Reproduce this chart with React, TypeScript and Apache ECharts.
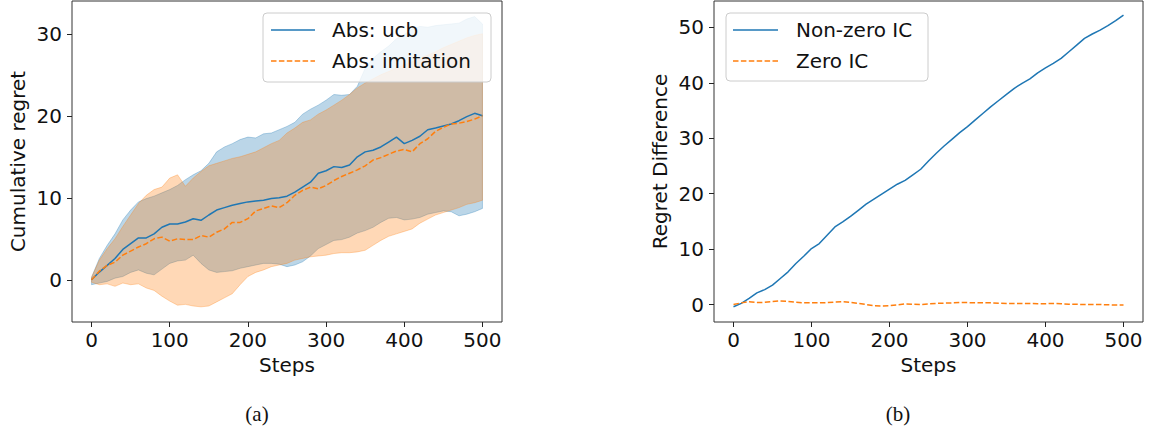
import React, { useEffect, useRef } from "react";
import * as echarts from "echarts";

// ---------- data ----------
const steps = [0, 10, 20, 30, 40, 50, 60, 70, 80, 90, 100, 110, 120, 130, 140, 150, 160, 170, 180, 190, 200, 210, 220, 230, 240, 250, 260, 270, 280, 290, 300, 310, 320, 330, 340, 350, 360, 370, 380, 390, 400, 410, 420, 430, 440, 450, 460, 470, 480, 490, 500];

const ucbMean = [0, 0.94, 1.75, 2.6, 3.7, 4.4, 5.1, 5.1, 5.6, 6.4, 6.8, 6.8, 7.05, 7.45, 7.25, 7.9, 8.5, 8.8, 9.1, 9.3, 9.5, 9.6, 9.7, 9.9, 10.0, 10.2, 10.7, 11.3, 11.9, 13.0, 13.3, 13.8, 13.7, 14.0, 15.0, 15.6, 15.8, 16.2, 16.8, 17.4, 16.6, 17.0, 17.5, 18.3, 18.5, 18.75, 19.0, 19.4, 19.9, 20.3, 20.0];
const ucbLo = [-0.6, -0.4, -0.2, 0.2, 0.4, 0.9, 1.2, 0.8, 0.6, 1.3, 2.0, 2.3, 2.4, 3.0, 2.0, 1.2, 0.9, 1.0, 1.1, 1.4, 1.6, 1.8, 2.0, 2.0, 1.9, 1.6, 1.8, 2.2, 2.9, 3.8, 4.3, 4.8, 4.9, 5.2, 5.7, 6.0, 6.4, 7.0, 7.5, 7.6, 7.3, 7.4, 7.6, 8.0, 8.2, 8.4, 8.3, 7.8, 8.0, 8.3, 8.7];
const ucbHi = [0.3, 2.6, 4.2, 5.6, 7.3, 8.5, 9.5, 9.9, 10.2, 10.6, 11.0, 11.5, 12.2, 12.8, 13.3, 14.2, 15.6, 16.2, 16.6, 17.1, 17.4, 17.3, 17.8, 17.9, 18.3, 18.7, 19.2, 20.2, 20.8, 21.3, 21.9, 22.6, 22.5, 22.6, 23.6, 25.8, 27.0, 27.8, 28.5, 29.4, 29.9, 30.6, 30.9, 30.8, 31.0, 31.1, 31.2, 31.3, 31.8, 32.1, 31.2];

const imiMean = [0, 1.05, 1.75, 2.15, 3.0, 3.5, 4.0, 4.4, 5.0, 5.2, 4.7, 5.0, 4.9, 4.9, 5.4, 5.2, 5.8, 6.2, 7.0, 7.0, 7.45, 8.4, 8.7, 9.0, 8.8, 9.4, 10.3, 10.9, 11.3, 11.1, 11.5, 12.1, 12.6, 13.0, 13.4, 13.9, 14.6, 14.9, 15.3, 15.7, 15.9, 15.6, 16.6, 17.2, 18.1, 18.6, 19.0, 19.1, 19.3, 19.6, 20.0];
const imiLo = [-0.3, -0.6, -0.5, -0.8, -0.4, -0.6, -0.5, -1.0, -1.3, -2.0, -2.6, -3.1, -3.0, -3.2, -3.3, -3.2, -2.7, -2.2, -1.7, -0.6, 0.4, 0.9, 1.2, 1.6, 1.8, 2.0, 2.4, 2.6, 2.8, 2.9, 3.0, 3.2, 3.3, 3.3, 3.4, 3.6, 4.2, 4.8, 5.3, 5.6, 5.9, 6.2, 6.9, 7.4, 7.9, 8.2, 8.5, 8.8, 9.2, 9.4, 9.7];
const imiHi = [0.3, 2.4, 3.8, 5.0, 6.5, 7.9, 9.3, 10.3, 11.0, 11.3, 12.4, 12.8, 11.4, 12.4, 13.2, 13.9, 14.2, 14.5, 14.8, 15.0, 15.3, 15.6, 16.1, 16.6, 17.0, 17.9, 18.5, 19.2, 19.5, 20.2, 20.7, 21.3, 21.9, 22.6, 23.4, 24.0, 24.5, 25.0, 25.4, 25.8, 26.2, 26.6, 27.0, 27.4, 27.8, 28.3, 28.7, 29.1, 29.5, 29.8, 30.0];

const nonZeroIC = [-0.4, 0.2, 1.1, 2.1, 2.7, 3.5, 4.7, 5.9, 7.4, 8.7, 10.1, 11.0, 12.5, 14.0, 14.9, 15.9, 17.0, 18.1, 19.0, 19.9, 20.8, 21.7, 22.4, 23.4, 24.4, 25.9, 27.3, 28.6, 29.8, 31.0, 32.1, 33.3, 34.5, 35.7, 36.8, 37.9, 39.0, 39.9, 40.7, 41.8, 42.7, 43.5, 44.4, 45.6, 46.8, 48.0, 48.8, 49.5, 50.3, 51.2, 52.2];
const zeroIC = [0.0, 0.3, 0.5, 0.35, 0.4, 0.55, 0.65, 0.55, 0.4, 0.3, 0.3, 0.3, 0.35, 0.45, 0.5, 0.4, 0.2, 0.0, -0.2, -0.25, -0.2, -0.05, 0.1, 0.05, 0.0, 0.1, 0.2, 0.25, 0.3, 0.35, 0.35, 0.3, 0.3, 0.3, 0.25, 0.2, 0.2, 0.2, 0.2, 0.15, 0.15, 0.2, 0.15, 0.05, 0.05, 0.0, 0.0, 0.0, -0.05, -0.1, -0.1];

const xTicks = [0, 100, 200, 300, 400, 500];
const yTicksA = [0, 10, 20, 30];
const yTicksB = [0, 10, 20, 30, 40, 50];

const legendA = ["Abs: ucb", "Abs: imitation"];
const legendB = ["Non-zero IC", "Zero IC"];

// ---------- styles ----------
const BLUE = "#1f77b4";
const ORANGE = "#ff7f0e";
const BLUE_FILL = "rgba(31,119,180,0.3)";
const ORANGE_FILL = "rgba(255,127,14,0.3)";
const FONT = "DejaVu Sans";
const DASH = [5.5, 2.4];

const pairs = (arr: number[]) => steps.map((s, i) => [s, arr[i]]);

function xAxis(gridIndex: number) {
  return {
    type: "value",
    gridIndex,
    min: -25,
    max: 525,
    name: "Steps",
    nameLocation: "middle",
    nameGap: 32,
    nameTextStyle: { fontFamily: FONT, fontSize: 20, color: "#111" },
    axisLine: { show: false, onZero: false },
    axisTick: { show: true, customValues: xTicks, length: 5, inside: false, lineStyle: { color: "#222", width: 1 } },
    axisLabel: { customValues: xTicks, fontFamily: FONT, fontSize: 20, color: "#111", margin: 8 },
    splitLine: { show: false },
  };
}

function yAxis(gridIndex: number, min: number, max: number, ticks: number[], name: string) {
  return {
    type: "value",
    gridIndex,
    min,
    max,
    name,
    nameLocation: "middle",
    nameRotate: 90,
    nameGap: 44,
    nameTextStyle: { fontFamily: FONT, fontSize: 20, color: "#111" },
    axisLine: { show: false, onZero: false },
    axisTick: { show: true, customValues: ticks, length: 5, inside: false, lineStyle: { color: "#222", width: 1 } },
    axisLabel: { customValues: ticks, fontFamily: FONT, fontSize: 20, color: "#111", margin: 10 },
    splitLine: { show: false },
  };
}

// confidence band drawn as one polygon, positions via the axes' own scale (api.coord)
function band(name: string, lo: number[], hi: number[], fill: string, xi: number) {
  return {
    name,
    type: "custom",
    xAxisIndex: xi,
    yAxisIndex: xi,
    data: steps.map((s, i) => [s, lo[i], hi[i]]),
    encode: { x: 0, y: [1, 2] },
    z: 1,
    silent: true,
    renderItem: (params: any, api: any) => {
      if (params.dataIndex !== 0) return null;
      const upper = steps.map((s, i) => api.coord([s, hi[i]]));
      const lower = steps.map((s, i) => api.coord([s, lo[i]])).reverse();
      return {
        type: "polygon",
        shape: { points: upper.concat(lower) },
        style: { fill, stroke: fill, lineWidth: 1 },
      };
    },
  };
}

function line(name: string, arr: number[], color: string, dashed: boolean, xi: number) {
  return {
    name,
    type: "line",
    xAxisIndex: xi,
    yAxisIndex: xi,
    data: pairs(arr),
    symbol: "none",
    lineStyle: { color, width: 1.5, type: dashed ? DASH : "solid" },
    z: 3,
  };
}

function legendBox(x: number, y: number, w: number, h: number, lineX0: number, lineX1: number, textX: number, labels: string[]) {
  const Z = 100;
  return [
    {
      type: "rect",
      z: Z,
      shape: { x, y, width: w, height: h, r: 4 },
      style: { fill: "rgba(255,255,255,0.8)", stroke: "#cccccc", lineWidth: 1 },
    },
    {
      type: "line",
      z: Z + 1,
      shape: { x1: lineX0, y1: y + 17, x2: lineX1, y2: y + 17 },
      style: { stroke: BLUE, lineWidth: 1.5 },
    },
    {
      type: "line",
      z: Z + 1,
      shape: { x1: lineX0, y1: y + 48, x2: lineX1, y2: y + 48 },
      style: { stroke: ORANGE, lineWidth: 1.5, lineDash: DASH },
    },
    {
      type: "text",
      z: Z + 1,
      x: textX,
      y: y + 17,
      style: { text: labels[0], font: `20px "${FONT}"`, fill: "#111", verticalAlign: "middle" },
    },
    {
      type: "text",
      z: Z + 1,
      x: textX,
      y: y + 48,
      style: { text: labels[1], font: `20px "${FONT}"`, fill: "#111", verticalAlign: "middle" },
    },
  ];
}

export default function App() {
  const ref = useRef<HTMLDivElement>(null);

  useEffect(() => {
    if (!ref.current) return;
    const chart = echarts.init(ref.current, null, { renderer: "svg" });
    chart.setOption({
      animation: false,
      backgroundColor: "#ffffff",
      grid: [
        { left: 72, top: 1, width: 430, height: 321, show: true, borderColor: "#333", borderWidth: 1, backgroundColor: "transparent" },
        { left: 714, top: 1, width: 429, height: 321, show: true, borderColor: "#333", borderWidth: 1, backgroundColor: "transparent" },
      ],
      xAxis: [xAxis(0), xAxis(1)],
      yAxis: [
        yAxis(0, -5.15, 34.0, yTicksA, "Cumulative regret"),
        yAxis(1, -3.15, 54.75, yTicksB, "Regret Difference"),
      ],
      series: [
        band("ucb band", ucbLo, ucbHi, BLUE_FILL, 0),
        band("imitation band", imiLo, imiHi, ORANGE_FILL, 0),
        line(legendA[0], ucbMean, BLUE, false, 0),
        line(legendA[1], imiMean, ORANGE, true, 0),
        line(legendB[0], nonZeroIC, BLUE, false, 1),
        line(legendB[1], zeroIC, ORANGE, true, 1),
      ],
      graphic: {
        zlevel: 1,
        elements: [
          ...legendBox(263, 13, 228, 69, 271, 315, 332, legendA),
          ...legendBox(726, 13, 202, 68, 733, 778, 796, legendB),
          {
            type: "text",
            x: 257,
            y: 414,
            style: { text: "(a)", font: '21px "Liberation Serif"', fill: "#111", align: "center", verticalAlign: "middle" },
          },
          {
            type: "text",
            x: 898,
            y: 414,
            style: { text: "(b)", font: '21px "Liberation Serif"', fill: "#111", align: "center", verticalAlign: "middle" },
          },
        ],
      },
    });
    return () => chart.dispose();
  }, []);

  return <div ref={ref} style={{ position: "fixed", left: 0, top: 0, width: 1153, height: 432, background: "#fff" }} />;
}
